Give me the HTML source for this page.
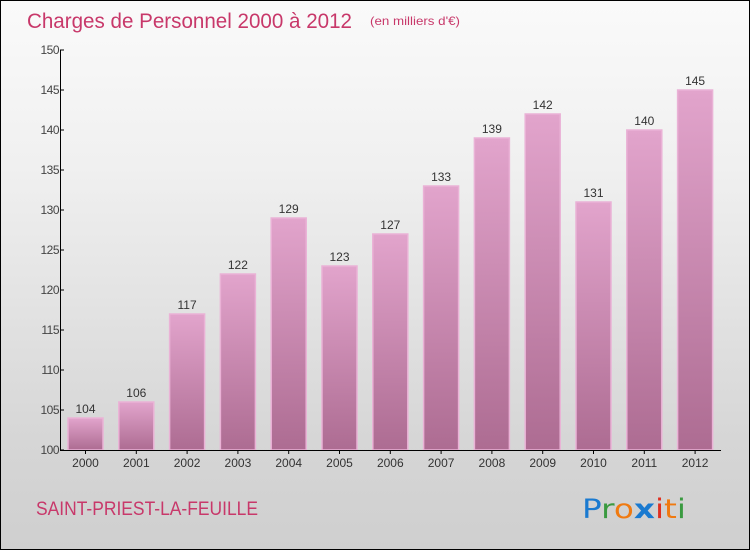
<!DOCTYPE html>
<html><head><meta charset="utf-8"><style>
body{margin:0;}
#wrap{position:relative;width:748px;height:548px;border:1px solid #000;background:linear-gradient(#fafafa,#f0f0f0 30%,#d6d6d6 80%,#cfcfcf);font-family:"Liberation Sans",sans-serif;overflow:hidden}
</style></head><body>
<div id="wrap">
<svg id="chart" width="748" height="548">
<defs><linearGradient id="bg" x1="0" y1="0" x2="0" y2="1"><stop offset="0" stop-color="#e2a4cc"/><stop offset="1" stop-color="#ad6c92"/></linearGradient></defs>
<text x="26" y="27" font-size="21" fill="#c8386a" textLength="325" lengthAdjust="spacingAndGlyphs">Charges de Personnel 2000 à 2012</text>
<text x="369" y="24" font-size="12" fill="#c8386a" textLength="90" lengthAdjust="spacingAndGlyphs">(en milliers d'€)</text>
<text x="35" y="514" font-size="19" fill="#c8386a" textLength="222" lengthAdjust="spacingAndGlyphs">SAINT-PRIEST-LA-FEUILLE</text>
<g font-size="27" font-family="'DejaVu Sans',sans-serif">
<text x="581" y="517" textLength="104" lengthAdjust="spacingAndGlyphs"><tspan fill="#1a7ad0">P</tspan><tspan fill="#3a9a40">r</tspan><tspan fill="#f07a10">o</tspan><tspan fill="#1a7ad0" font-weight="bold">x</tspan><tspan fill="#e03020">i</tspan><tspan fill="#f07a10">t</tspan><tspan fill="#3a9a40">i</tspan></text>
</g>
<g id="bars"></g><g id="axes"></g>
</svg></div>
<script>
const categories=["2000","2001","2002","2003","2004","2005","2006","2007","2008","2009","2010","2011","2012"];
const values=[104,106,117,122,129,123,127,133,139,142,131,140,145];
const yTicks=[100,105,110,115,120,125,130,135,140,145,150];
const NS="http://www.w3.org/2000/svg";
const y=v=>449-(v-100)*8;
const x=i=>84.5+i*50.8;
function mk(t,a,p){const e=document.createElementNS(NS,t);for(const k in a)e.setAttribute(k,a[k]);p.appendChild(e);return e;}
const bars=document.getElementById('bars'),axes=document.getElementById('axes');
values.forEach((v,i)=>{
 const r=mk('rect',{x:x(i)-17.5,y:y(v),width:35,height:y(100)-y(v),fill:'url(#bg)',stroke:'#eab2d6','stroke-width':1.5},bars);
 
 
 const t=mk('text',{x:x(i),y:y(v)-5,'text-anchor':'middle','font-size':12,fill:'#333'},bars);t.textContent=v;
 
 
 const c=mk('text',{x:x(i),y:466,'text-anchor':'middle','font-size':12,fill:'#333'},axes);c.textContent=categories[i];
 
 
 mk('line',{x1:x(i),x2:x(i),y1:449,y2:453,stroke:'#000'},axes);
});
const ya=mk('line',{x1:59.5,x2:59.5,y1:49,y2:449,stroke:'#000'},axes);


const xa=mk('line',{x1:59,x2:720,y1:449.5,y2:449.5,stroke:'#000'},axes);


yTicks.forEach(v=>{
 mk('line',{x1:59,x2:63,y1:y(v),y2:y(v),stroke:'#000'},axes);
 const t=mk('text',{x:58,y:y(v)+4,'text-anchor':'end','font-size':12,fill:'#444','letter-spacing':'-0.5'},axes);t.textContent=v;
 
 
});
</script>
</body></html>
